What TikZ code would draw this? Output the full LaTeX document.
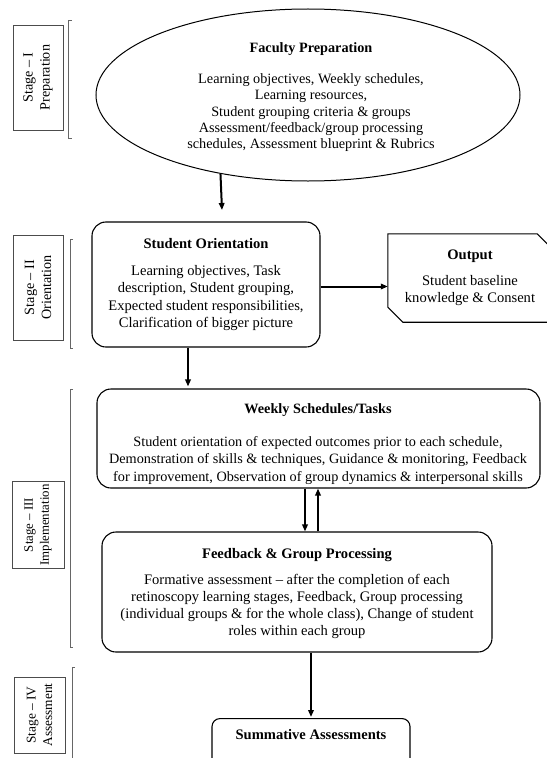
\documentclass[tikz,border=0pt]{standalone}
\usepackage{fontspec}
\setmainfont{Liberation Serif}
\usetikzlibrary{arrows.meta,shapes.geometric,calc}
\begin{document}
\begin{tikzpicture}[x=1bp,y=-1bp,
  every node/.style={font=\fontsize{14.6}{17.2}\selectfont, align=center, inner sep=0pt},
  rbox/.style={draw, line width=1.1bp, rounded corners=14bp},
  stagebox/.style={draw=black!70, line width=0.7bp, rotate=90, minimum height=50bp,
                   font=\fontsize{14.2}{17}\selectfont},
  arr/.style={line width=2bp, -{Triangle[length=7bp,width=5.5bp]}},
  brk/.style={draw=black!60, line width=0.7bp}]
\useasboundingbox (0,0) rectangle (547,758);
\clip (0,0) rectangle (547,758);

% stage labels
\node[stagebox, minimum width=105bp] (s1) at (38,77.5) {Stage -- I\\Preparation};
\node[stagebox, minimum width=105bp] (s2) at (38,287.5) {Stage -- II\\Orientation};
\node[stagebox, minimum width=87bp, minimum height=52bp, font=\fontsize{12.9}{16}\selectfont] (s3) at (38,525) {Stage -- III\\Implementation};
\node[stagebox, minimum width=76bp, minimum height=51bp, font=\fontsize{13.4}{16.5}\selectfont] (s4) at (39.5,715) {Stage -- IV\\Assessment};

% brackets
\draw[brk] (72,20) -- (68.5,20) -- (68.5,138) -- (72,138);
\draw[brk] (73,239) -- (70,239) -- (70,348) -- (73,348);
\draw[brk] (73,389) -- (70,389) -- (70,647) -- (73,647);
\draw[brk] (75,667) -- (72,667) -- (72,770);

% faculty preparation
\node[ellipse, draw, line width=1bp, minimum width=424bp, minimum height=172bp] (fac) at (308,95) {};
\node[font=\fontsize{14.3}{16.4}\selectfont] (fact) at (311,97)
  {\textbf{Faculty Preparation}\\[15bp]
   Learning objectives, Weekly schedules,\\
   Learning resources,\\
   Student grouping criteria \& groups\\
   Assessment/feedback/group processing\\
   schedules, Assessment blueprint \& Rubrics};

% student orientation
\node[rbox, minimum width=228bp, minimum height=125bp] (so) at (206,284.5)
  {\textbf{Student Orientation}\\[10bp]
   Learning objectives, Task\\
   description, Student grouping,\\
   Expected student responsibilities,\\
   Clarification of bigger picture};

% output
\node[minimum width=164bp, minimum height=88bp] (out) at (470,278)
  {\textbf{Output}\\[9bp]Student baseline\\knowledge \& Consent};
\draw[line width=1.1bp] (out.north west) -- ([xshift=-15bp]out.north east)
  -- ([yshift=-15bp]out.north east) -- (out.south east)
  -- ([xshift=15bp]out.south west) -- ([yshift=15bp]out.south west) -- cycle;

% weekly schedules
\node[rbox, minimum width=443bp, minimum height=99bp] (wk) at (318.5,438.5) {};
\node[font=\fontsize{14.3}{17.5}\selectfont] (wkt) at (318,444)
  {\textbf{Weekly Schedules/Tasks}\\[15bp]
   Student orientation of expected outcomes prior to each schedule,\\
   Demonstration of skills \& techniques, Guidance \& monitoring, Feedback\\
   for improvement, Observation of group dynamics \& interpersonal skills};

% feedback
\node[rbox, minimum width=390bp, minimum height=120bp] (fb) at (297,592) {};
\node (fbt) at (297,593.5)
  {\textbf{Feedback \& Group Processing}\\[9bp]
   Formative assessment -- after the completion of each\\
   retinoscopy learning stages, Feedback, Group processing\\
   (individual groups \& for the whole class), Change of student\\
   roles within each group};

% summative
\node[rbox, rounded corners=8bp, minimum width=198bp, minimum height=60bp, anchor=north] (sum) at (311,718) {};
\node (sumt) at (311,735) {\textbf{Summative Assessments}};

% arrows
\coordinate (a1) at (222,210);
\draw[arr] (fac.222) -- (a1);
\draw[arr] ([yshift=-2bp]so.east) -- ([yshift=-2bp]so.east -| out.west);
\draw[arr, shorten >=2bp] ([xshift=-18bp]so.south) -- ([xshift=-18bp]so.south |- wk.north);
\draw[arr] ([xshift=-13.5bp]wk.south) -- ([xshift=-13.5bp]wk.south |- fb.north);
\draw[arr] ([xshift=-0.5bp]wk.south |- fb.north) -- ([xshift=-0.5bp]wk.south);
\draw[arr, shorten >=1bp] (sum.north |- fb.south) -- (sum.north);
\end{tikzpicture}
\end{document}
